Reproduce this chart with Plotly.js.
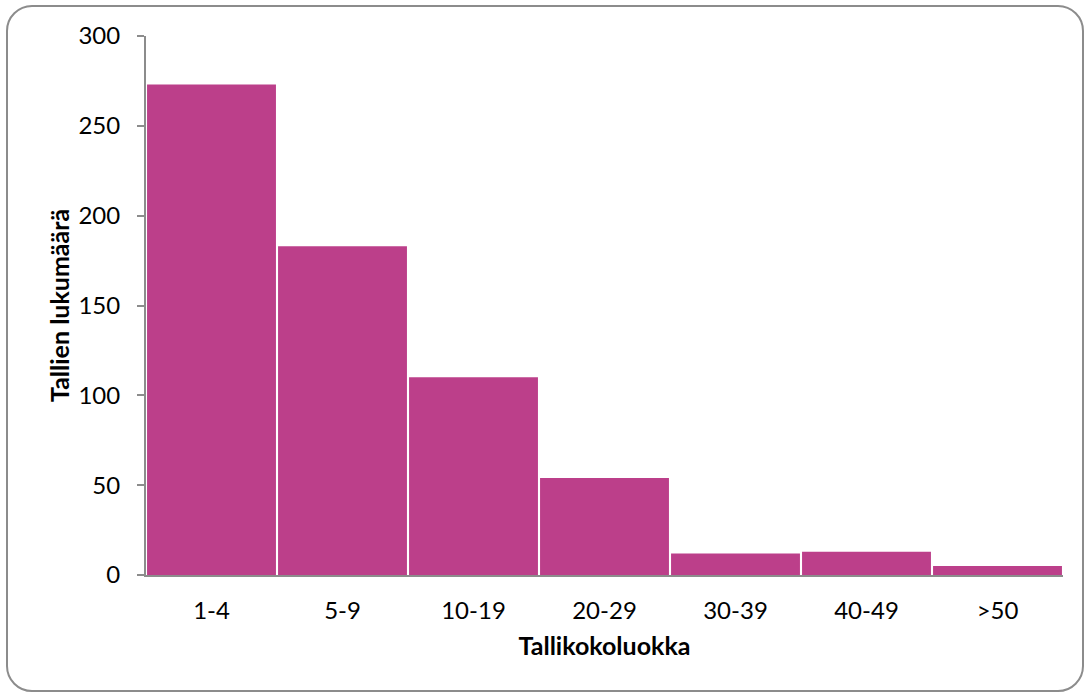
<!DOCTYPE html>
<html>
<head>
<meta charset="utf-8">
<script src="https://cdn.plot.ly/plotly-3.0.1.min.js"></script>
<style>
  html, body { margin: 0; padding: 0; background: #fff; }
  #wrap { position: relative; width: 1084px; height: 695px; }
  #chart { position: absolute; left: 0; top: 0; width: 1084px; height: 695px; }
  #frame { position: absolute; left: 6px; top: 5px; width: 1078px; height: 687px;
           border: 2px solid #8c8c8c; border-radius: 26px; box-sizing: border-box;
           pointer-events: none; }
</style>
</head>
<body>
<div id="wrap">
  <div id="chart"></div>
  <div id="frame"></div>
</div>
<script>
const categories = ["1-4", "5-9", "10-19", "20-29", "30-39", "40-49", ">50"];
const counts = [273, 183, 110, 54, 12, 13, 5];
const yTickValues = [0, 50, 100, 150, 200, 250, 300];
const xTitle = "Tallikokoluokka";
const yTitle = "Tallien lukumäärä";

const font = "Lato, 'Open Sans', sans-serif";

const data = [{
  type: "bar",
  x: categories,
  y: counts,
  marker: { color: "#bc3f8a", line: { width: 0 } },
  hoverinfo: "x+y"
}];

const layout = {
  width: 1084,
  height: 695,
  margin: { l: 146, r: 21, t: 36, b: 120 },
  paper_bgcolor: "rgba(0,0,0,0)",
  plot_bgcolor: "#ffffff",
  showlegend: false,
  bargap: 0.016,
  font: { family: font, size: 24, color: "#000" },
  xaxis: {
    type: "category",
    showline: true,
    linecolor: "#8c8c8c",
    linewidth: 2,
    ticks: "",
    showgrid: false,
    zeroline: false,
    ticklabelstandoff: 13,
    tickfont: { family: font, size: 24, color: "#000" },
    title: { text: xTitle, font: { family: font, size: 25, color: "#000", weight: "bold" }, standoff: 15 }
  },
  yaxis: {
    range: [0, 300],
    tickvals: yTickValues,
    ticktext: yTickValues.map(String),
    showline: true,
    linecolor: "#8c8c8c",
    linewidth: 2,
    ticks: "outside",
    ticklen: 7,
    tickwidth: 2,
    tickcolor: "#8c8c8c",
    showgrid: false,
    zeroline: false,
    ticklabelstandoff: 12,
    tickfont: { family: font, size: 24, color: "#000" },
    title: { text: yTitle, font: { family: font, size: 25, color: "#000", weight: "bold" }, standoff: 2 }
  }
};

Plotly.newPlot("chart", data, layout, { displayModeBar: false, staticPlot: true });
</script>
</body>
</html>
